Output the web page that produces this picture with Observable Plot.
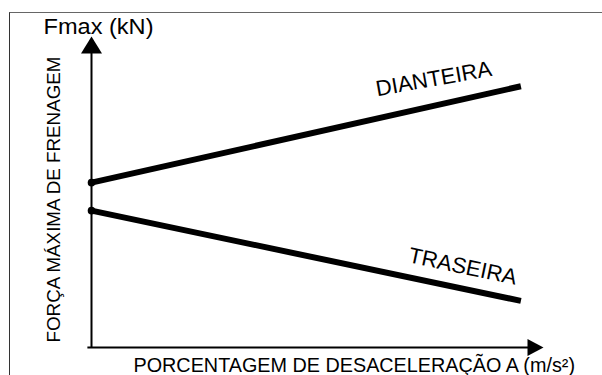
<!DOCTYPE html>
<html>
<head>
<meta charset="utf-8">
<script src="https://cdn.jsdelivr.net/npm/d3@7"></script>
<script src="https://cdn.jsdelivr.net/npm/@observablehq/plot@0.6"></script>
<style>
  html, body { margin: 0; padding: 0; background: #fff; overflow: hidden; }
  #wrap { position: relative; width: 602px; height: 375px; overflow: hidden; }
  #frame { position: absolute; left: 9px; top: 12px; width: 800px; height: 600px;
           border-top: 1.5px solid #666; border-left: 1.5px solid #333; box-sizing: border-box; }
  #chart { position: absolute; left: 0; top: 0; }
  svg text { font-family: "Liberation Sans", Arial, sans-serif; }
</style>
</head>
<body>
<div id="wrap"><div id="frame"></div><div id="chart"></div></div>
<script>
// Schematic data (arbitrary units)
const deceleration = [0, 95];          // % of x-axis length
const dianteira = [53, 84];            // front axle max braking force
const traseira = [44, 15];             // rear axle max braking force
const seriesNames = ["DIANTEIRA", "TRASEIRA"];
const labelX = [76, 81.8];
const labelY = [84.1, 23.8];
const labelRotate = [-10, 12];
const yTitle = "Fmax (kN)";
const yLabel = "FORÇA MÁXIMA DE FRENAGEM";
const xLabel = "PORCENTAGEM DE DESACELERAÇÃO A (m/s²)";
const axisMax = 100;

const rows = [];
deceleration.forEach((x, i) => {
  rows.push({series: seriesNames[0], x, y: dianteira[i]});
  rows.push({series: seriesNames[1], x, y: traseira[i]});
});
const starts = rows.filter(d => d.x === deceleration[0]);
const labels = seriesNames.map((name, i) => ({name, x: labelX[i], y: labelY[i], r: labelRotate[i]}));

const arrowUp = {draw(ctx) { ctx.moveTo(0, 0); ctx.lineTo(-10.5, 17); ctx.lineTo(10.5, 17); ctx.closePath(); }};
const arrowRight = {draw(ctx) { ctx.moveTo(0, 0); ctx.lineTo(-16, -8.5); ctx.lineTo(-16, 8.5); ctx.closePath(); }};

const chart = Plot.plot({
  width: 602,
  height: 375,
  marginLeft: 91,
  marginRight: 59,
  marginTop: 36,
  marginBottom: 28,
  x: {domain: [0, axisMax], axis: null},
  y: {domain: [0, axisMax], axis: null},
  style: {background: "transparent", overflow: "visible"},
  marks: [
    Plot.ruleX([0], {y1: 0, y2: 96, stroke: "black", strokeWidth: 2}),
    Plot.ruleY([0], {x1: -0.8, x2: 97, stroke: "black", strokeWidth: 2}),
    Plot.dot([{x: 0, y: axisMax}], {x: "x", y: "y", symbol: arrowUp, fill: "black", stroke: null}),
    Plot.dot([{x: axisMax, y: 0}], {x: "x", y: "y", symbol: arrowRight, fill: "black", stroke: null}),
    Plot.line(rows, {x: "x", y: "y", z: "series", stroke: "black", strokeWidth: 6, strokeLinecap: "butt"}),
    Plot.dot(starts, {x: "x", y: "y", r: 3.8, fill: "black", stroke: null}),
    Plot.text(labels, {x: "x", y: "y", text: "name", rotate: "r", fontSize: 22, lineAnchor: "bottom", textAnchor: "middle", fill: "black"}),
    Plot.text([yTitle], {frameAnchor: "top-left", dx: 7, dy: -3, fontSize: 22, lineAnchor: "bottom", textAnchor: "middle", fill: "black"}),
    Plot.text([yLabel], {frameAnchor: "left", dx: -38, dy: 7.5, rotate: -90, fontSize: 18.8, lineAnchor: "middle", textAnchor: "middle", fill: "black"}),
    Plot.text([xLabel], {frameAnchor: "bottom-left", dx: 42, dy: 24, fontSize: 19.8, lineAnchor: "bottom", textAnchor: "start", fill: "black"})
  ]
});
document.getElementById("chart").append(chart);
// stretch the "Fmax (kN)" title to its width in the picture
d3.select(chart).selectAll("text").filter(function() { return this.textContent === yTitle; })
  .attr("textLength", 110).attr("lengthAdjust", "spacingAndGlyphs");
</script>
</body>
</html>
